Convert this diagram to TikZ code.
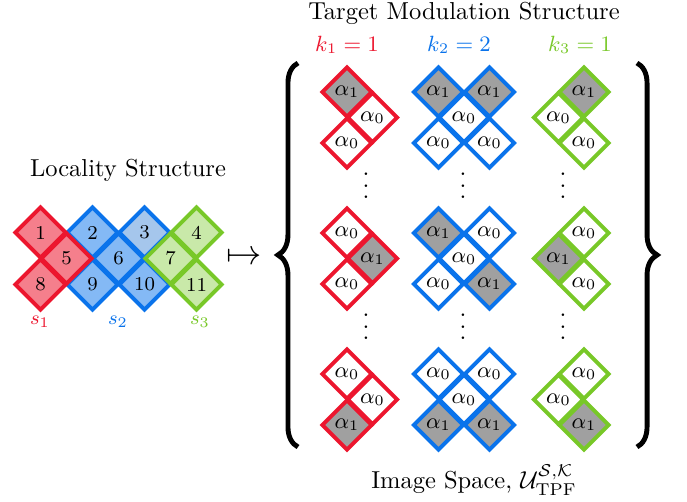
\documentclass[tikz,border=0pt]{standalone}
\usepackage{amsmath}
\usepackage{amsfonts}
\usepackage{tikz}
\usetikzlibrary{shapes.geometric, decorations.pathreplacing}

\definecolor{sred}{RGB}{236,22,46}
\definecolor{sblue}{RGB}{10,115,235}
\definecolor{sgreen}{RGB}{120,200,40}
\definecolor{pale}{RGB}{165,198,236}
\definecolor{cellgray}{RGB}{160,160,160}
\newcommand{\tvdots}{\vbox{\baselineskip4.7pt\lineskiplimit0pt\hbox{.}\hbox{.}\hbox{.}}}

\begin{document}
\begin{tikzpicture}[x=0.408pt, y=-0.408pt, line width=1.6pt,
	loc/.style = {draw, diamond, inner sep=0pt, minimum size=21.2pt, font=\footnotesize},
	cell/.style = {draw, diamond, inner sep=0pt, minimum size=20.8pt, font=\small},
	rc/.style = {cell, draw=sred},
	bc/.style = {cell, draw=sblue},
	gc/.style = {cell, draw=sgreen},
	c0/.style = {fill=white},
	c1/.style = {fill=cellgray},
	bigbrace/.style = {decorate, line width=2pt, decoration={brace, amplitude=8.2pt, aspect=0.5}}]
\useasboundingbox (0,0) rectangle (687,502);
\node (title) at (128,170) {Locality Structure};
\node[loc, draw=sblue, fill=sblue!50] (2) at (92.5,232.5) {2};
\node[loc, draw=sblue, fill=pale] (3) at (144.5,232.5) {3};
\node[loc, draw=sblue, fill=sblue!50] (6) at (118.5,258.5) {6};
\node[loc, draw=sblue, fill=sblue!50] (9) at (92.5,284.5) {9};
\node[loc, draw=sblue, fill=sblue!50] (10) at (144.5,284.5) {10};
\node[loc, draw=sred, fill=sred!55] (1) at (40.5,232.5) {1};
\node[loc, draw=sred, fill=sred!55] (5) at (66.5,258.5) {5};
\node[loc, draw=sred, fill=sred!55] (8) at (40.5,284.5) {8};
\node[loc, draw=sgreen, fill=sgreen!40] (4) at (196.5,232.5) {4};
\node[loc, draw=sgreen, fill=sgreen!40] (7) at (170.5,258.5) {7};
\node[loc, draw=sgreen, fill=sgreen!40] (11) at (196.5,284.5) {11};
\node[text=sred, font=\footnotesize] (s1) at (40,322) {$s_1$};
\node[text=sblue, font=\footnotesize] (s2) at (118,322) {$s_2$};
\node[text=sgreen, font=\footnotesize] (s3) at (200,322) {$s_3$};
\node[font=\Large] (map) at (244,258) {$\mapsto$};
\coordinate (lbot) at (298,447);
\coordinate (ltop) at (298,63);
\coordinate (rtop) at (637,63);
\coordinate (rbot) at (637,447);
\draw[bigbrace] (lbot) -- (ltop);
\draw[bigbrace] (rtop) -- (rbot);
\node (target) at (464,13) {Target Modulation Structure};
\node[text=sred, font=\small] (k1) at (347,45) {$k_1=1$};
\node[text=sblue, font=\small] (k2) at (459,45) {$k_2=2$};
\node[text=sgreen, font=\small] (k3) at (580,45) {$k_3=1$};
\node[rc, c1] (r1t) at (347,92) {$\alpha_1$};
\node[rc, c0] (r1m) at (372.5,117.5) {$\alpha_0$};
\node[rc, c0] (r1b) at (347,143) {$\alpha_0$};
\node[bc, c1] (b1tl) at (438.5,92) {$\alpha_1$};
\node[bc, c1] (b1tr) at (489.5,92) {$\alpha_1$};
\node[bc, c0] (b1m) at (464,117.5) {$\alpha_0$};
\node[bc, c0] (b1bl) at (438.5,143) {$\alpha_0$};
\node[bc, c0] (b1br) at (489.5,143) {$\alpha_0$};
\node[gc, c1] (g1t) at (584,92) {$\alpha_1$};
\node[gc, c0] (g1m) at (558.5,117.5) {$\alpha_0$};
\node[gc, c0] (g1b) at (584,143) {$\alpha_0$};
\node (d1r) at (366,186) {\tvdots};
\node (d1b) at (463,186) {\tvdots};
\node (d1g) at (563,186) {\tvdots};
\node[rc, c0] (r2t) at (347,233) {$\alpha_0$};
\node[rc, c1] (r2m) at (372.5,258.5) {$\alpha_1$};
\node[rc, c0] (r2b) at (347,284) {$\alpha_0$};
\node[bc, c1] (b2tl) at (438.5,233) {$\alpha_1$};
\node[bc, c0] (b2tr) at (489.5,233) {$\alpha_0$};
\node[bc, c0] (b2m) at (464,258.5) {$\alpha_0$};
\node[bc, c0] (b2bl) at (438.5,284) {$\alpha_0$};
\node[bc, c1] (b2br) at (489.5,284) {$\alpha_1$};
\node[gc, c0] (g2t) at (584,233) {$\alpha_0$};
\node[gc, c1] (g2m) at (558.5,258.5) {$\alpha_1$};
\node[gc, c0] (g2b) at (584,284) {$\alpha_0$};
\node (d2r) at (366,327) {\tvdots};
\node (d2b) at (463,327) {\tvdots};
\node (d2g) at (563,327) {\tvdots};
\node[rc, c0] (r3t) at (347,374) {$\alpha_0$};
\node[rc, c0] (r3m) at (372.5,399.5) {$\alpha_0$};
\node[rc, c1] (r3b) at (347,425) {$\alpha_1$};
\node[bc, c0] (b3tl) at (438.5,374) {$\alpha_0$};
\node[bc, c0] (b3tr) at (489.5,374) {$\alpha_0$};
\node[bc, c0] (b3m) at (464,399.5) {$\alpha_0$};
\node[bc, c1] (b3bl) at (438.5,425) {$\alpha_1$};
\node[bc, c1] (b3br) at (489.5,425) {$\alpha_1$};
\node[gc, c0] (g3t) at (584,374) {$\alpha_0$};
\node[gc, c0] (g3m) at (558.5,399.5) {$\alpha_0$};
\node[gc, c1] (g3b) at (584,425) {$\alpha_1$};
\node (space) at (474,480) {Image Space, $\mathcal{U}^{\mathcal{S},\mathcal{K}}_{\text{TPF}}$};
\end{tikzpicture}
\end{document}
